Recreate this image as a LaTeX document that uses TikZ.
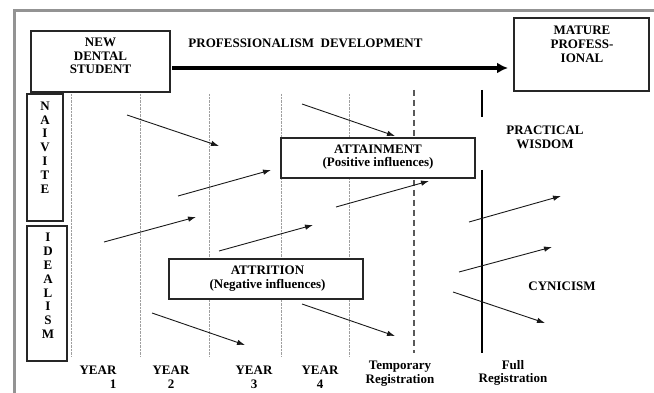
\documentclass[tikz,border=0pt]{standalone}
\usepackage{fontspec}
\setmainfont{Liberation Serif}
\usetikzlibrary{arrows.meta}

\begin{document}
\begin{tikzpicture}[x=1pt,y=-1pt,
  lbl/.style={font=\bfseries\fontsize{13}{13.8}\selectfont, align=center, inner sep=0pt},
  box/.style={draw=black!85, line width=1.1pt, inner sep=0pt, fill=white},
  yeargrid/.style={draw=gray!75, line width=0.9pt, dash pattern=on 0.7pt off 0.7pt},
  templine/.style={draw=black!65, line width=1.3pt, dash pattern=on 6pt off 4pt},
  fullline/.style={draw=black, line width=2pt},
  influence/.style={draw=black!90, line width=0.9pt, -{Latex[length=8pt,width=5.5pt]}},
  mainarrow/.style={draw=black, line width=3.4pt, -{Latex[length=11pt,width=11pt]}},
  frameline/.style={draw=gray!85, line width=3pt},
 ]
\useasboundingbox (0,0) rectangle (654,393);

% outer frame (top and left edges)
\coordinate (frB) at (14,393);
\coordinate (frC) at (14,11);
\coordinate (frR) at (654,11);
\draw[frameline] (frB) -- (frC) -- (frR);

% year boundaries
\foreach \n/\x in {g1/71, g2/140, g3/209, g4/281, g5/349} {
  \coordinate (\n t) at (\x,94);
  \coordinate (\n b) at (\x,357);
  \draw[yeargrid] (\n t) -- (\n b);
}

% temporary registration (dashed) and full registration (solid)
\coordinate (tmpT) at (414,90);
\coordinate (tmpB) at (414,353);
\draw[templine] (tmpT) -- (tmpB);
\coordinate (fullT) at (482,90);
\coordinate (fullM) at (482,117);
\coordinate (fullN) at (482,170);
\coordinate (fullB) at (482,353);
\draw[fullline] (fullT) -- (fullM);
\draw[fullline] (fullN) -- (fullB);

% end-point boxes
\node[box, minimum width=139pt, minimum height=61pt] (nds) at (100.5,61.5) {};
\node[lbl] (ndsT) at (100.5,56) {NEW\\DENTAL\\STUDENT};
\node[box, minimum width=135pt, minimum height=73pt] (mp) at (581.5,54.5) {};
\node[lbl] (mpT) at (582,44) {MATURE\\PROFESS-\\IONAL};

% development arrow
\node[lbl] (dev) at (305.5,43) {PROFESSIONALISM\ \ DEVELOPMENT};
\coordinate (devS) at (172,68);
\coordinate (devE) at (508,68);
\draw[mainarrow] (devS) -- (devE);

% starting attitudes
\node[box, minimum width=36pt, minimum height=127pt] (naiv) at (45,157.5) {};
\node[lbl] (naivT) at (45,147.5) {N\\A\\I\\V\\I\\T\\E};
\node[box, minimum width=40pt, minimum height=135pt] (ideal) at (47,293.5) {};
\node[lbl] (idealT) at (48,286) {I\\D\\E\\A\\L\\I\\S\\M};

% influences
\foreach \n/\sx/\sy/\ex/\ey in {
  a1/127/115/219/146,
  a2/178/196/271/170,
  a3/302/104/395/136,
  a4/104/242/196/217,
  a5/219/251/313/225,
  a6/336/207/429/181,
  a7/152/313/245/345,
  a8/302/304/395/336,
  a9/469/222/561/196,
  a10/459/272/552/247,
  a11/453/292/545/323} {
  \coordinate (\n s) at (\sx,\sy);
  \coordinate (\n e) at (\ex,\ey);
  \draw[influence] (\n s) -- (\n e);
}

% influence boxes
\node[box, minimum width=194pt, minimum height=40pt] (att) at (378,158) {};
\node[lbl] (attT) at (378,157) {ATTAINMENT\\(Positive influences)};
\node[box, minimum width=194pt, minimum height=40pt] (attr) at (266,279) {};
\node[lbl] (attrT) at (267.5,278.5) {ATTRITION\\(Negative influences)};

% outcomes
\node[lbl] (pw) at (545,137) {PRACTICAL\\WISDOM};
\node[lbl] (cyn) at (562,286) {CYNICISM};

% time axis labels
\node[lbl, align=right] (y1) at (98,377) {YEAR\\1};
\node[lbl] (y2) at (171,377) {YEAR\\2};
\node[lbl] (y3) at (254,377) {YEAR\\3};
\node[lbl] (y4) at (320,377) {YEAR\\4};
\node[lbl] (treg) at (400,374) {Temporary\\Registration};
\node[lbl] (freg) at (513,373) {Full\\Registration};
\end{tikzpicture}
\end{document}
